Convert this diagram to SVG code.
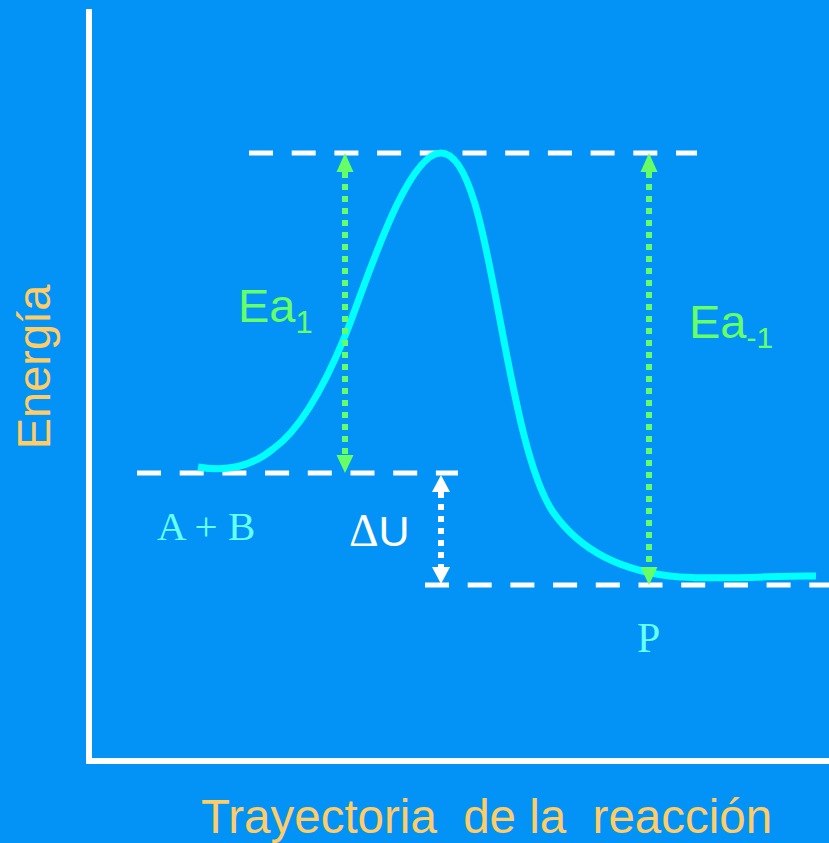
<svg xmlns="http://www.w3.org/2000/svg" width="829" height="843" viewBox="0 0 829 843">
  <style>
    .axis { stroke: #FFFFFF; stroke-width: 6; fill: none; }
    .level { stroke: #FFFFFF; stroke-width: 5; stroke-dasharray: 24 18.7; fill: none; }
    .curve { stroke: #00FFFF; stroke-width: 7; fill: none; stroke-linecap: butt; }
    .gdot { stroke: #66FF66; stroke-width: 6; stroke-dasharray: 6 6; fill: none; }
    .wdot { stroke: #FFFFFF; stroke-width: 6; stroke-dasharray: 6 6; fill: none; }
    .ghead { fill: #66FF66; }
    .whead { fill: #FFFFFF; }
    .sans { font-family: "Liberation Sans", Arial, sans-serif; }
    .serif { font-family: "Liberation Serif", "Times New Roman", serif; }
    .gold { fill: #FFCC66; }
    .green { fill: #66FF66; }
    .cyan { fill: #66FFFF; }
    .white { fill: #FFFFFF; }
  </style>
  <rect x="0" y="0" width="829" height="843" fill="#0392F5"/>

  <g id="axes">
    <line class="axis" x1="89" y1="9" x2="89" y2="764"/>
    <line class="axis" x1="86" y1="761" x2="829" y2="761"/>
  </g>

  <g id="levels">
    <line class="level" x1="249" y1="153" x2="697" y2="153"/>
    <line class="level" x1="137" y1="473" x2="458" y2="473"/>
    <line class="level" x1="425" y1="585" x2="829" y2="585"/>
  </g>

  <g id="energy-curve">
    <path class="curve" d="M198,467 C215,470 245,472 273,449 C297,432 322,392 345,336 C363,293 405,153 441,153 C470,153 485,240 500,320 C515,400 530,478 553,512 C583,555 630,573 680,577 C730,580 780,575 816,576"/>
  </g>

  <g id="connectors">
    <line class="gdot" x1="345" y1="172" x2="345" y2="455"/>
    <polygon class="ghead" points="345,153 336.5,172 353.5,172"/>
    <polygon class="ghead" points="345,473 336.5,455 353.5,455"/>

    <line class="gdot" x1="649" y1="172" x2="649" y2="567"/>
    <polygon class="ghead" points="649,153 640.5,172 657.5,172"/>
    <polygon class="ghead" points="649,585 640.5,567 657.5,567"/>

    <line class="wdot" x1="441" y1="492" x2="441" y2="567"/>
    <polygon class="whead" points="441,475 432,492 450,492"/>
    <polygon class="whead" points="441,584 432,567 450,567"/>
  </g>

  <g id="label-ea1">
    <text class="sans green" x="238" y="322" font-size="47">Ea<tspan font-size="31" y="333">1</tspan></text>
  </g>
  <g id="label-ea-1">
    <text class="sans green" x="689" y="338" font-size="47">Ea<tspan font-size="30" y="348">-1</tspan></text>
  </g>
  <g id="label-du">
    <text class="sans white" x="349" y="546" font-size="43"><tspan class="serif" font-size="46">Δ</tspan>U</text>
  </g>
  <g id="label-ab">
    <text class="serif cyan" x="157" y="540" font-size="41">A + B</text>
  </g>
  <g id="label-p">
    <text class="serif cyan" x="637" y="652" font-size="42">P</text>
  </g>
  <g id="label-y">
    <text class="sans gold" transform="translate(50,367) rotate(-90)" text-anchor="middle" font-size="47">Energía</text>
  </g>
  <g id="label-x">
    <text class="sans gold" x="201" y="833" font-size="47.5" xml:space="preserve">Trayectoria  de la  reacción</text>
  </g>
</svg>
